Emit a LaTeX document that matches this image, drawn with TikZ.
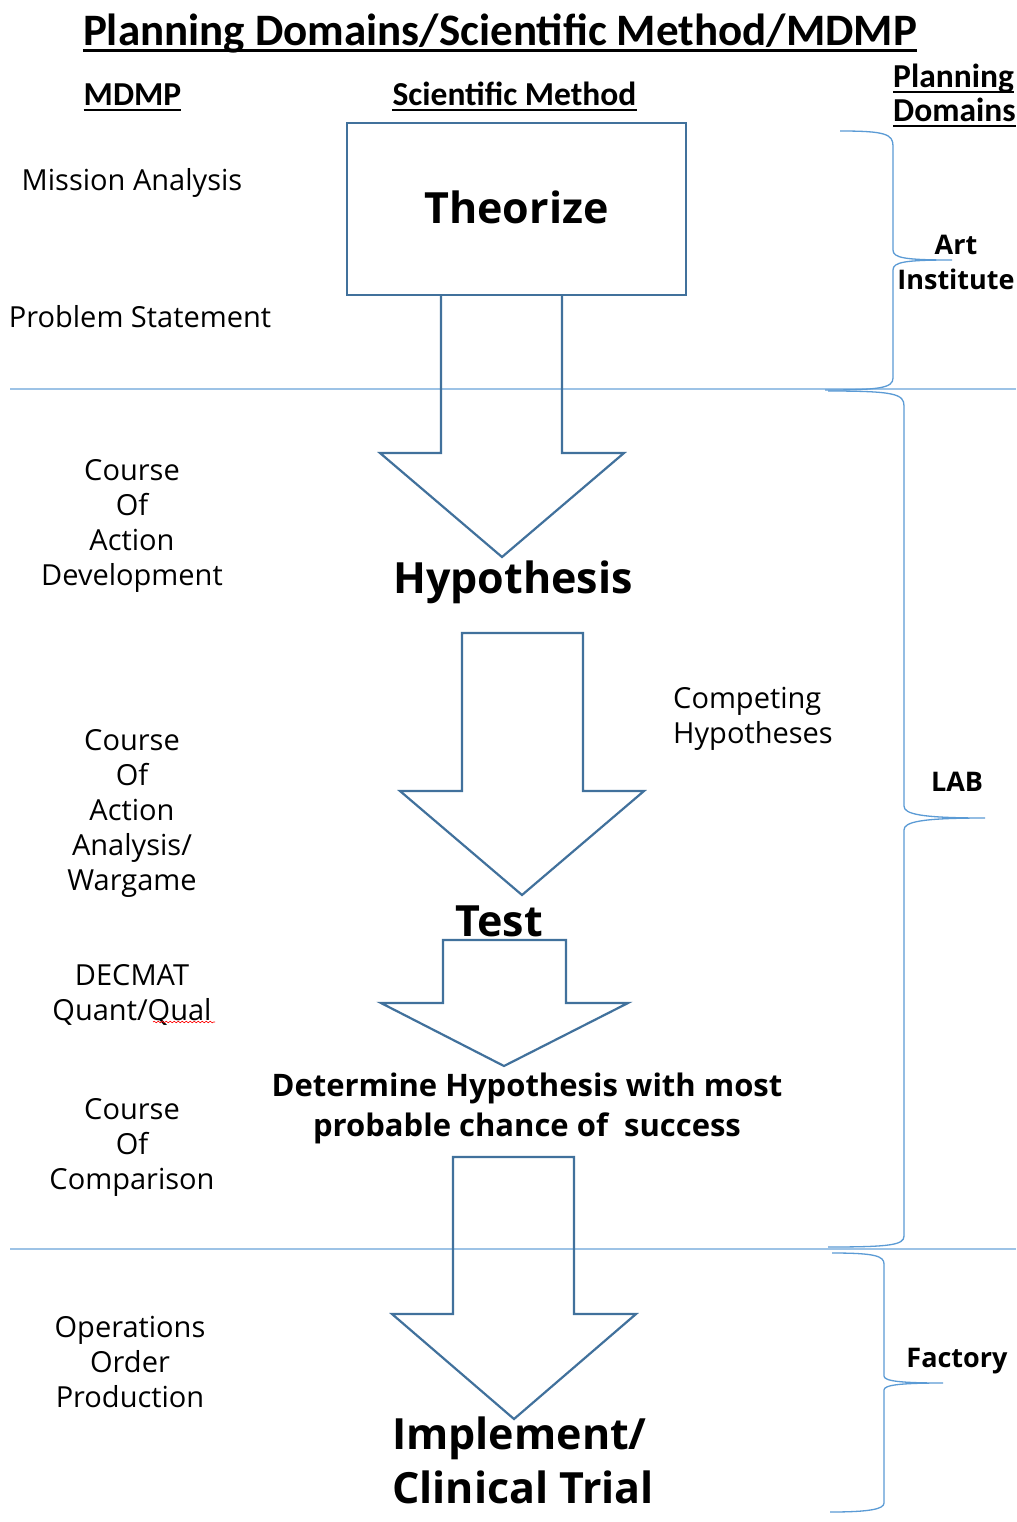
\documentclass[tikz,border=0pt]{standalone}
\usepackage{fontspec}
\setmainfont{Open Sans}
\newfontfamily\headfont{Carlito}
\usetikzlibrary{decorations.pathmorphing}
\definecolor{boxblue}{HTML}{41719C}
\definecolor{bracewire}{HTML}{5B9BD5}
\definecolor{rulewire}{HTML}{9DC3E6}

\begin{document}
\begin{tikzpicture}[x=1pt,y=-1pt,
  sidetext/.style={font=\fontsize{29}{35}\selectfont, align=center, inner sep=0pt},
  stage/.style={font=\bfseries\fontsize{43}{54}\selectfont, inner sep=0pt},
  zone/.style={font=\bfseries\fontsize{27}{35}\selectfont, align=center, inner sep=0pt},
  colhead/.style={font=\headfont\bfseries\fontsize{33.5}{34}\selectfont, inner sep=0pt},
  titletext/.style={font=\headfont\bfseries\fontsize{45}{46}\selectfont, inner sep=0pt, anchor=base},
  blockarrow/.style={draw=boxblue, line width=2.2pt, line join=miter},
  bracket/.style={draw=bracewire, line width=1.3pt},
  divider/.style={draw=rulewire, line width=1.5pt},
  uline/.style={line width=2pt}
]
% page
\fill[white] (0,0) rectangle (1016,1522);

% headings
\node[titletext] (title) at (500,46) {Planning Domains/Scientific Method/MDMP};
\draw[line width=3pt] ([yshift=-5pt]title.base west) -- ([yshift=-5pt]title.base east);
\node[colhead, anchor=base] (mdmp) at (132.5,106) {MDMP};
\draw[uline] ([yshift=-4pt]mdmp.base west) -- ([yshift=-4pt]mdmp.base east);
\node[colhead, anchor=base] (sci) at (514.5,106) {Scientific Method};
\draw[uline] ([yshift=-4pt]sci.base west) -- ([yshift=-4pt]sci.base east);
\node[colhead, anchor=base west] (plan) at (893,88) {Planning};
\draw[uline] ([yshift=-4pt]plan.base west) -- ([yshift=-4pt]plan.base east);
\node[colhead, anchor=base west] (doms) at (893,122) {Domains};
\draw[uline] ([yshift=-4pt]doms.base west) -- ([yshift=-4pt]doms.base east);

% dividers between planning domains
\draw[divider] (10,389) -- (1016,389);
\draw[divider] (10,1249) -- (1016,1249);

% scientific method column
\node[blockarrow, draw, minimum width=339pt, minimum height=172pt,
      font=\bfseries\fontsize{43}{48}\selectfont] (theo) at (516.5,209) {\raisebox{3pt}{Theorize}};
\draw[blockarrow] (441,295) -- (441,453) -- (380,453) -- (502,557) -- (624,453) -- (562,453) -- (562,295);
\node[stage] (hyp) at (513,582) {Hypothesis};
\draw[blockarrow] (462,633) -- (583,633) -- (583,791) -- (644,791) -- (522,895) -- (400,791) -- (462,791) -- cycle;
\node[stage] (test) at (499,921) {Test};
\draw[blockarrow] (443,940) -- (566,940) -- (566,1003) -- (628,1003) -- (504,1066) -- (381,1003) -- (443,1003) -- cycle;
\node[font=\bfseries\fontsize{31}{40}\selectfont, align=center, inner sep=0pt] (det) at (527,1108)
  {Determine Hypothesis with most\\probable chance of\ \ success};
\draw[blockarrow] (453,1157) -- (574,1157) -- (574,1314) -- (636,1314) -- (514,1419) -- (392,1314) -- (453,1314) -- cycle;
\node[stage, align=left, anchor=west] (impl) at (392,1460) {Implement/\\Clinical Trial};
\node[sidetext, align=left, anchor=west] (comp) at (673,719) {Competing\\Hypotheses};

% MDMP column
\node[sidetext] (mission) at (132,183) {Mission Analysis};
\node[sidetext] (problem) at (140,317) {Problem Statement};
\node[sidetext] (coad) at (132,526) {Course\\Of\\Action\\Development};
\node[sidetext] (coaa) at (132,813) {Course\\Of\\Action\\Analysis/\\Wargame};
\node[sidetext] (decmat) at (132,995) {DECMAT\\Quant/Qual};
\draw[red, line width=0.6pt, decorate, decoration={snake, amplitude=0.8pt, segment length=4pt}]
  (153,1022) -- (215,1022);
\node[sidetext] (coac) at (132,1147) {Course\\Of\\Comparison};
\node[sidetext] (opord) at (130,1362) {Operations\\Order\\Production};

% planning domain braces
\draw[bracket] (840,131) .. controls (885,131) and (893,134) .. (893,146) -- (893,250)
  .. controls (893,258) and (905,260) .. (952,260)
  .. controls (905,260) and (893,262) .. (893,270) -- (893,378)
  .. controls (893,388) and (880,390) .. (825,390);
\node[zone] (art) at (956,262) {Art\\Institute};

\draw[bracket] (828,391) .. controls (895,391) and (904,394) .. (904,406) -- (904,806)
  .. controls (904,814) and (920,818) .. (985,818)
  .. controls (920,818) and (904,822) .. (904,830) -- (904,1236)
  .. controls (904,1245) and (890,1247) .. (828,1247);
\node[zone] (lab) at (957,782) {LAB};

\draw[bracket] (832,1253) .. controls (875,1253) and (884,1256) .. (884,1264) -- (884,1376)
  .. controls (884,1381) and (900,1383) .. (943,1383)
  .. controls (900,1383) and (884,1385) .. (884,1390) -- (884,1503)
  .. controls (884,1509) and (870,1512) .. (830,1512);
\node[zone] (fact) at (957,1361) {Factory};
\end{tikzpicture}
\end{document}
